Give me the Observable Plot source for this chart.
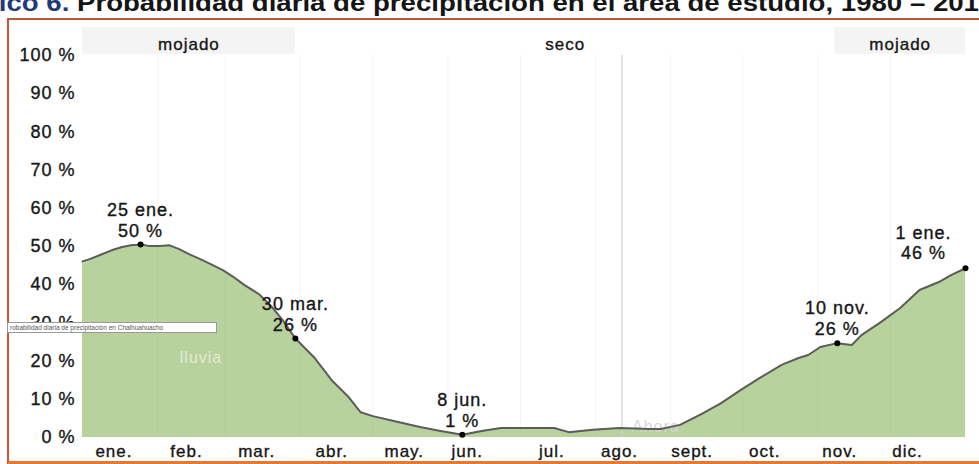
<!DOCTYPE html>
<html><head><meta charset="utf-8">
<script src="https://cdn.jsdelivr.net/npm/d3@7"></script>
<script src="https://cdn.jsdelivr.net/npm/@observablehq/plot@0.6"></script>
<style>
body{margin:0;background:#fff;font-family:"Liberation Sans",Arial,sans-serif;overflow:hidden}
#wrap{position:relative;width:979px;height:464px;overflow:hidden;background:#fff}
#chart{position:absolute;left:0;top:0}
#chart svg [aria-label$="tick label"]{stroke:#161616;stroke-width:0.35px}
#title{position:absolute;left:-58px;top:-8px;font-size:23px;line-height:23px;font-weight:bold;white-space:nowrap;color:#151515;transform:scaleX(1.2);transform-origin:0 0}
#title span{color:#1e3a78}
#frame{position:absolute;left:7px;top:18px;width:1000px;height:441px;border-left:2px solid #d8503b;border-top:2px solid #b55a42;border-bottom:3px solid #e9772f}
#tip{position:absolute;left:7px;top:322px;width:206px;height:9px;border:1px solid #9a9a9a;background:#fff;font-size:6.5px;line-height:9px;color:#555;white-space:nowrap;overflow:hidden;padding-left:2px}
</style></head>
<body>
<div id="wrap">
  <div id="chart"></div>
  <div id="frame"></div>
  <div id="title"><span>Gráfico 6.</span> Probabilidad diaria de precipitación en el área de estudio, 1980 – 2016</div>
  <div id="tip">robabilidad diaria de precipitación en Chalhuahuacho</div>
</div>
<script>
// day of year (0 = 1 ene) and daily probability of precipitation (%)
const days   = [0,3,7,12,16,20,24,28,32,36,40,44,48,53,58,62,67,73,78,83,88,96,103,110,115,120,130,140,148,157,165,173,184,195,201,211,222,234,239,247,256,264,272,280,289,296,300,305,312,318,322,330,338,346,354,359,365];
const values = [46.1,46.7,47.7,49.0,49.8,50.3,50.5,50.1,50.1,50.3,49.3,48.0,46.9,45.4,43.8,42.2,39.9,37.5,34.4,30.5,25.9,20.8,15.0,10.6,6.6,5.6,4.1,2.7,1.7,0.7,1.7,2.5,2.5,2.5,1.4,2.0,2.5,2.2,2.2,3.3,6.2,9.0,12.4,15.6,19.0,20.8,21.6,23.7,24.7,24.2,26.8,30.2,33.9,38.6,40.7,42.5,44.3];

const yTicks = [0,10,20,30,40,50,60,70,80,90,100];
const monthLabels = ["ene.","feb.","mar.","abr.","may.","jun.","jul.","ago.","sept.","oct.","nov.","dic."];
const monthLabelDays = [13,43,72,103,133,159,194,222,252,282,313,341];
const monthStarts = [31,59,90,120,151,181,212,243,273,304,334];

const seasonLabels = ["mojado","seco","mojado"];
const seasonStarts = [0,88,311];
const seasonEnds   = [88,311,365];

const annDays  = [24,88,157,312,365];
const annDates = ["25 ene.","30 mar.","8 jun.","10 nov.","1 ene."];
const annPcts  = ["50 %","26 %","1 %","26 %","46 %"];

const nowDay = 223;

const series = days.map((d,i)=>({day:d, value:values[i]}));
const valueByDay = new Map(series.map(d=>[d.day,d.value]));
const seasons = seasonLabels.map((l,i)=>({label:l, start:seasonStarts[i], end:seasonEnds[i]}));
const anns = annDays.map((d,i)=>({day:d, value:valueByDay.get(d), text:annDates[i]+"\n"+annPcts[i]}));
const labelByDay = new Map(monthLabelDays.map((d,i)=>[d,monthLabels[i]]));

const ink = "#161616";
const thick = {stroke:ink, strokeWidth:0.35};

const chart = Plot.plot({
  width:979, height:464,
  marginLeft:82, marginRight:14, marginTop:55, marginBottom:27,
  style:{fontFamily:"'Liberation Sans', Arial, sans-serif", fontSize:"17px", color:ink, background:"transparent", overflow:"visible", letterSpacing:"1px"},
  x:{domain:[0,365], axis:null},
  y:{domain:[0,100], axis:null},
  marks:[
    Plot.rect(seasons.filter(s=>s.label==="mojado"), {x1:"start", x2:"end", y1:100.3, y2:107.3, fill:"#f4f4f4"}),
    Plot.text(seasons, {x:d=>(d.start+d.end)/2, y:102.8, text:"label", fontSize:17, fill:ink, ...thick}),
    Plot.ruleX(monthStarts, {y1:0, y2:100, stroke:"#000", strokeOpacity:0.02}),
    Plot.areaY(series, {x:"day", y:"value", fill:"#b8d29d"}),
    Plot.ruleX(monthStarts, {y1:0, y2:100, stroke:"#6f8f55", strokeOpacity:0.06}),
    Plot.ruleX([nowDay], {y1:0, y2:100, stroke:"#cfcfcf", strokeWidth:1.2}),
    Plot.text(["lluvia"], {x:49, y:20.8, fill:"#fff", fillOpacity:0.6, fontSize:16}),
    Plot.text(["Ahora"], {x:237, y:2.7, fill:"#d6d6d6", fontSize:16}),
    Plot.line(series, {x:"day", y:"value", stroke:"#5c5c5c", strokeWidth:2}),
    Plot.dot(anns, {x:"day", y:"value", r:3, fill:"#000"}),
    Plot.text(anns.slice(0,4), {x:"day", y:"value", text:"text", lineAnchor:"bottom", dy:-8, lineHeight:1.15, fontSize:18, fill:ink, ...thick}),
    Plot.text(anns.slice(4), {x:"day", y:"value", text:"text", lineAnchor:"bottom", dy:-9, dx:-42, lineHeight:1.15, fontSize:18, fill:ink, ...thick}),
    Plot.axisY({ticks:yTicks, tickFormat:d=>d+" %", tickSize:0, tickPadding:7, fontSize:18, fill:ink, label:null}),
    Plot.axisX({ticks:monthLabelDays, tickFormat:d=>labelByDay.get(d), tickSize:0, tickPadding:7, fontSize:17, fill:ink, label:null})
  ]
});
document.getElementById("chart").appendChild(chart);
</script>
</body></html>
